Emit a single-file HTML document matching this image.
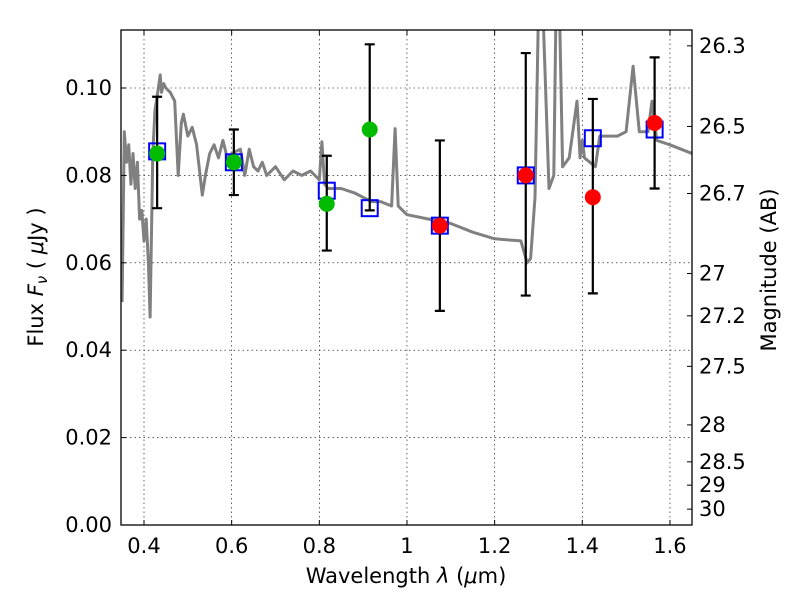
<!DOCTYPE html>
<html><head><meta charset="utf-8"><style>
body{margin:0;background:#fff}
svg text{font-family:"DejaVu Sans","Liberation Sans",sans-serif}
</style></head><body>
<svg id="chart" width="800" height="600" xmlns="http://www.w3.org/2000/svg">
<defs><clipPath id="clip"><rect x="121" y="30" width="571" height="495"/></clipPath></defs>
<rect width="800" height="600" fill="#fff"/>
<g id="grid"></g>
<g id="marks" clip-path="url(#clip)"></g>
<rect x="121" y="30" width="571" height="495" fill="none" stroke="#000" stroke-width="1.3"/>
<g id="axes"></g>
<text x="406" y="583" font-size="21" text-anchor="middle">Wavelength  <tspan font-style="italic">λ</tspan> (<tspan font-style="italic">μ</tspan>m)</text>
<text transform="translate(43,277) rotate(-90)" font-size="21" text-anchor="middle">Flux  <tspan font-style="italic">F<tspan font-size="15" dy="4">ν</tspan></tspan><tspan dy="-4">  ( <tspan font-style="italic">μ</tspan>Jy )</tspan></text>
<text transform="translate(776,270) rotate(-90)" font-size="21" text-anchor="middle">Magnitude (AB)</text>
</svg>
<script>
const specLam=[0.35,0.355,0.36,0.365,0.37,0.375,0.38,0.385,0.39,0.395,0.40,0.405,0.41,0.414,0.42,0.425,0.43,0.437,0.44,0.445,0.45,0.46,0.47,0.478,0.485,0.49,0.50,0.51,0.52,0.533,0.54,0.55,0.56,0.57,0.58,0.59,0.6,0.62,0.63,0.64,0.65,0.66,0.67,0.68,0.7,0.72,0.74,0.76,0.78,0.80,0.806,0.812,0.82,0.85,0.88,0.9,0.92,0.94,0.965,0.973,0.98,1.0,1.05,1.1,1.15,1.2,1.26,1.274,1.282,1.292,1.30,1.31,1.324,1.335,1.34,1.348,1.355,1.37,1.388,1.395,1.40,1.405,1.43,1.44,1.48,1.50,1.516,1.53,1.55,1.559,1.57,1.6,1.65];
const specFlux=[0.051,0.09,0.083,0.087,0.078,0.085,0.077,0.083,0.07,0.072,0.065,0.07,0.06,0.0476,0.085,0.095,0.098,0.103,0.099,0.101,0.1,0.099,0.097,0.08,0.092,0.094,0.089,0.091,0.087,0.0755,0.08,0.085,0.087,0.084,0.088,0.084,0.085,0.086,0.08,0.086,0.082,0.081,0.083,0.08,0.082,0.079,0.081,0.08,0.081,0.079,0.0877,0.078,0.077,0.077,0.076,0.075,0.074,0.074,0.073,0.0907,0.073,0.071,0.070,0.069,0.067,0.0655,0.065,0.060,0.061,0.075,0.118,0.118,0.077,0.08,0.118,0.118,0.082,0.084,0.097,0.084,0.088,0.084,0.082,0.089,0.089,0.090,0.105,0.09,0.09,0.097,0.088,0.087,0.085];
const modelLam=[0.43,0.605,0.817,0.915,1.075,1.271,1.424,1.565];
const modelFlux=[0.0855,0.083,0.0765,0.0725,0.0685,0.0800,0.0885,0.0905];
const obsLam=[0.43,0.605,0.817,0.915,1.075,1.271,1.424,1.565];
const obsFlux=[0.085,0.083,0.0735,0.0905,0.0685,0.080,0.075,0.092];
const obsLo=[0.0725,0.0755,0.0628,0.072,0.049,0.0525,0.053,0.077];
const obsHi=[0.098,0.0905,0.0845,0.110,0.088,0.108,0.0975,0.107];
const obsColor=["#00bb00","#00bb00","#00bb00","#00bb00","#ff0000","#ff0000","#ff0000","#ff0000"];
const xTicks=[0.4,0.6,0.8,1.0,1.2,1.4,1.6];
const xTickLabels=["0.4","0.6","0.8","1","1.2","1.4","1.6"];
const yTicks=[0,0.02,0.04,0.06,0.08,0.10];
const yTickLabels=["0.00","0.02","0.04","0.06","0.08","0.10"];
const magTicks=[26.3,26.5,26.7,27,27.2,27.5,28,28.5,29,30];

const X=v=>144+(v-0.4)*438.3;
const Y=v=>525-v*4370;
const NS="http://www.w3.org/2000/svg";
function mk(parent,tag,attrs){const e=document.createElementNS(NS,tag);for(const k in attrs)e.setAttribute(k,attrs[k]);document.getElementById(parent).appendChild(e);return e;}
xTicks.forEach((t,i)=>{
 const x=X(t);
 const g=mk('grid','line',{x1:x,x2:x,y1:30,y2:525,stroke:'#000','stroke-width':0.6,'stroke-dasharray':'1.5,3'});
 
 
 mk('axes','line',{x1:x,x2:x,y1:525,y2:520,stroke:'#000'});
 mk('axes','line',{x1:x,x2:x,y1:30,y2:35,stroke:'#000'});
 const tx=mk('axes','text',{x:x,y:553,'font-size':21,'text-anchor':'middle'});tx.textContent=xTickLabels[i];
 
 
});
yTicks.forEach((t,i)=>{
 const y=Y(t);
 const g=mk('grid','line',{x1:121,x2:692,y1:y,y2:y,stroke:'#000','stroke-width':0.6,'stroke-dasharray':'1.5,3'});
 
 
 mk('axes','line',{x1:121,x2:126,y1:y,y2:y,stroke:'#000'});
 const tx=mk('axes','text',{x:112,y:y+7,'font-size':21,'text-anchor':'end'});tx.textContent=yTickLabels[i];
 
 
});
magTicks.forEach(m=>{
 const f=Math.pow(10,(23.9-m)/2.5);const y=Y(f);
 mk('axes','line',{x1:692,x2:687,y1:y,y2:y,stroke:'#000'});
 const tx=mk('axes','text',{x:699,y:y+7,'font-size':21});tx.textContent=String(m);
 
 
});
const sp=mk('marks','path',{d:specLam.map((l,i)=>(i?'L':'M')+X(l).toFixed(1)+','+Y(specFlux[i]).toFixed(1)).join(''),fill:'none',stroke:'#808080','stroke-width':3,'stroke-linejoin':'round'});


modelLam.forEach((l,i)=>{
 const r=mk('marks','rect',{x:X(l)-8,y:Y(modelFlux[i])-8,width:16,height:16,fill:'none',stroke:'#0000ff','stroke-width':2});
 
 
});
obsLam.forEach((l,i)=>{
 const x=X(l);
 const e=mk('marks','path',{d:`M${x},${Y(obsLo[i])}V${Y(obsHi[i])}M${x-5},${Y(obsLo[i])}h10M${x-5},${Y(obsHi[i])}h10`,stroke:'#000','stroke-width':2.2,fill:'none'});
 
 
 const c=mk('marks','circle',{cx:x,cy:Y(obsFlux[i]),r:8,fill:obsColor[i]});
 
 
});
</script>
</body></html>
